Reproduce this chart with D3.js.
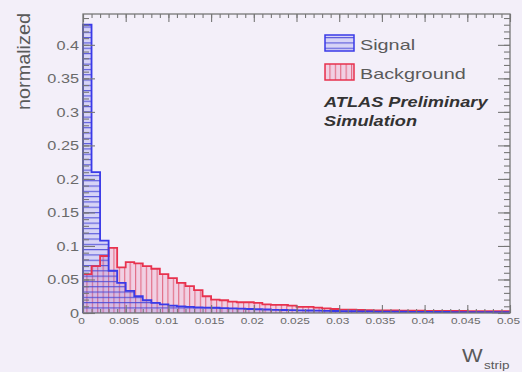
<!DOCTYPE html>
<html><head><meta charset="utf-8">
<script src="https://cdn.jsdelivr.net/npm/d3@7"></script>
<style>
html,body{margin:0;padding:0;background:#f3eff9;}
svg{display:block;font-family:"Liberation Sans",Arial,Helvetica,sans-serif;}
</style>
</head><body>
<svg id="chart" width="522" height="372"></svg>
<script>
// W_strip distributions, 50 bins of width 0.001 from 0 to 0.05 (normalized)
const binWidth = 0.001;
const signalValues = [
  0.430, 0.210, 0.108, 0.063, 0.045, 0.033, 0.025, 0.019, 0.015, 0.013,
  0.011, 0.010, 0.009, 0.0085, 0.008, 0.0078, 0.0072, 0.0068, 0.0064, 0.006,
  0.0056, 0.0052, 0.0048, 0.0045, 0.0042, 0.004, 0.0037, 0.0034, 0.0032, 0.003,
  0.0028, 0.0026, 0.0025, 0.0024, 0.0022, 0.0021, 0.002, 0.0019, 0.0018, 0.0017,
  0.0016, 0.0015, 0.0015, 0.0014, 0.0013, 0.0013, 0.0012, 0.0012, 0.0011, 0.0011
];
const backgroundValues = [
  0.058, 0.070, 0.085, 0.097, 0.068, 0.076, 0.074, 0.070, 0.066, 0.058,
  0.052, 0.045, 0.040, 0.034, 0.025, 0.020, 0.019, 0.017, 0.016, 0.016,
  0.015, 0.013, 0.012, 0.012, 0.011, 0.009, 0.009, 0.008, 0.007, 0.006,
  0.005, 0.005, 0.0045, 0.0042, 0.004, 0.004, 0.0038, 0.0036, 0.0035, 0.0034,
  0.0033, 0.0032, 0.0031, 0.003, 0.003, 0.0029, 0.0028, 0.0028, 0.0027, 0.0027
];
const yTickValues = [0, 0.05, 0.1, 0.15, 0.2, 0.25, 0.3, 0.35, 0.4];
const xTickValues = [0, 0.005, 0.01, 0.015, 0.02, 0.025, 0.03, 0.035, 0.04, 0.045, 0.05];
const legendLabels = ["Signal", "Background"];
const atlasLines = ["ATLAS Preliminary", "Simulation"];
const yTitle = "normalized";
const xTitleMain = "W";
const xTitleSub = "strip";

const svg = d3.select("#chart");
const frame = {left: 83, right: 510, top: 14, bottom: 313};

const x = d3.scaleLinear().domain([0, 0.05]).range([frame.left, frame.right]);
const y = d3.scaleLinear().domain([0, 0.446]).range([frame.bottom, frame.top]);

// hatch patterns
const defs = svg.append("defs");
defs.append("pattern").attr("id", "hatchSig").attr("patternUnits", "userSpaceOnUse")
  .attr("width", 10).attr("height", 5.3)
  .append("line").attr("x1", 0).attr("x2", 10).attr("y1", 0.6).attr("y2", 0.6)
  .attr("stroke", "#4848d8").attr("stroke-width", 1);
defs.append("pattern").attr("id", "hatchBkg").attr("patternUnits", "userSpaceOnUse")
  .attr("width", 5.4).attr("height", 10)
  .append("line").attr("x1", 0.6).attr("x2", 0.6).attr("y1", 0).attr("y2", 10)
  .attr("stroke", "#e0607a").attr("stroke-width", 1);

const hist = [
  {values: backgroundValues, fill: "rgba(236,100,150,0.22)", line: "#e8324e", hatch: "url(#hatchBkg)"},
  {values: signalValues, fill: "rgba(90,90,235,0.18)", line: "#3a3ae8", hatch: "url(#hatchSig)"}
];

function binPoints(values) {
  const pts = values.map((v, i) => ({x: i * binWidth, v}));
  pts.push({x: values.length * binWidth, v: values[values.length - 1]});
  return pts;
}

const area = d3.area().curve(d3.curveStepAfter)
  .x(d => x(d.x)).y0(y(0)).y1(d => y(d.v));

const g = svg.append("g");
hist.forEach(h => {
  const pts = binPoints(h.values);
  g.append("path").attr("d", area(pts)).attr("fill", h.fill);
  g.append("path").attr("d", area(pts)).attr("fill", h.hatch);
});
hist.forEach(h => {
  const pts = binPoints(h.values);
  const line = d3.line().curve(d3.curveStepAfter).x(d => x(d.x)).y(d => y(d.v));
  const outline = [{x: 0, v: 0}];
  g.append("path")
    .attr("d", "M" + x(0) + "," + y(0) + "L" + line(pts).slice(1) + "L" + x(0.05) + "," + y(0))
    .attr("fill", "none").attr("stroke", h.line).attr("stroke-width", 1.8);
});

// axes (ticks on all four sides, pointing inward)
const axisColor = "#777";
const yMinor = d3.range(0, 0.4401, 0.01);
const xMinor = d3.range(0, 0.0501, 0.001);
function styleAxis(sel) {
  sel.select(".domain").remove();
  sel.selectAll("line").attr("stroke", axisColor).attr("stroke-width", 1.1);
}
const fmt = d => d === 0 ? "0" : String(+d.toFixed(4));

svg.append("g").attr("transform", `translate(${frame.left},0)`)
  .call(d3.axisLeft(y).tickValues(yMinor).tickSize(-6).tickFormat("")).call(styleAxis);
const yAx = svg.append("g").attr("transform", `translate(${frame.left},0)`)
  .call(d3.axisLeft(y).tickValues(yTickValues).tickSize(-12).tickPadding(4).tickFormat(fmt)).call(styleAxis);
svg.append("g").attr("transform", `translate(${frame.right},0)`)
  .call(d3.axisRight(y).tickValues(yMinor).tickSize(-6).tickFormat("")).call(styleAxis);
svg.append("g").attr("transform", `translate(${frame.right},0)`)
  .call(d3.axisRight(y).tickValues(yTickValues).tickSize(-12).tickFormat("")).call(styleAxis);

svg.append("g").attr("transform", `translate(0,${frame.bottom})`)
  .call(d3.axisBottom(x).tickValues(xMinor).tickSize(-4).tickFormat("")).call(styleAxis);
const xAx = svg.append("g").attr("transform", `translate(0,${frame.bottom})`)
  .call(d3.axisBottom(x).tickValues(xTickValues).tickSize(-8).tickPadding(4).tickFormat(fmt)).call(styleAxis);
svg.append("g").attr("transform", `translate(0,${frame.top})`)
  .call(d3.axisTop(x).tickValues(xMinor).tickSize(-4).tickFormat("")).call(styleAxis);
svg.append("g").attr("transform", `translate(0,${frame.top})`)
  .call(d3.axisTop(x).tickValues(xTickValues).tickSize(-8).tickFormat("")).call(styleAxis);

svg.append("rect").attr("x", frame.left).attr("y", frame.top)
  .attr("width", frame.right - frame.left).attr("height", frame.bottom - frame.top)
  .attr("fill", "none").attr("stroke", axisColor).attr("stroke-width", 1.3);

yAx.selectAll("text").attr("font-size", 12.5).attr("fill", "#6a6a6a").attr("font-family", null)
  .attr("dy", "0.36em").attr("data-sx", 1.3);
xAx.selectAll("text").attr("font-size", 9.5).attr("fill", "#6a6a6a").attr("font-family", null)
  .attr("dx", -2).attr("data-sx", 1.25);

// legend
const legend = svg.append("g");
const legendRows = [
  {label: legendLabels[0], h: hist[1], y: 35},
  {label: legendLabels[1], h: hist[0], y: 64}
];
legendRows.forEach(r => {
  legend.append("rect").attr("x", 325).attr("y", r.y).attr("width", 29).attr("height", 16)
    .attr("fill", r.h.fill);
  legend.append("rect").attr("x", 325).attr("y", r.y).attr("width", 29).attr("height", 16)
    .attr("fill", r.h.hatch).attr("stroke", r.h.line).attr("stroke-width", 1.5);
  legend.append("text").attr("x", 360).attr("y", r.y + 14.5).attr("font-size", 15)
    .attr("fill", "#5a5a5a").attr("data-sx", 1.32).text(r.label);
});
atlasLines.forEach((t, i) => {
  legend.append("text").attr("x", 324).attr("y", 107 + i * 19).attr("font-size", 14)
    .attr("font-weight", "bold").attr("font-style", "italic").attr("fill", "#333")
    .attr("data-sx", 1.3).text(t);
});

// axis titles
svg.append("text").attr("transform", "translate(30,13) rotate(-90)")
  .attr("text-anchor", "end").attr("font-size", 18).attr("fill", "#5a5a5a")
  .attr("textLength", 97).attr("lengthAdjust", "spacingAndGlyphs").text(yTitle);
svg.append("text").attr("x", 462).attr("y", 362).attr("font-size", 19).attr("fill", "#5a5a5a")
  .attr("data-sx", 1.15).text(xTitleMain);
svg.append("text").attr("x", 484).attr("y", 369).attr("font-size", 10).attr("fill", "#5a5a5a")
  .attr("data-sx", 1.35).text(xTitleSub);

// widen glyphs horizontally
svg.selectAll("text[data-sx]").each(function() {
  const sx = +this.getAttribute("data-sx");
  const w = this.getComputedTextLength();
  this.setAttribute("textLength", w * sx);
  this.setAttribute("lengthAdjust", "spacingAndGlyphs");
});
</script>
</body></html>
